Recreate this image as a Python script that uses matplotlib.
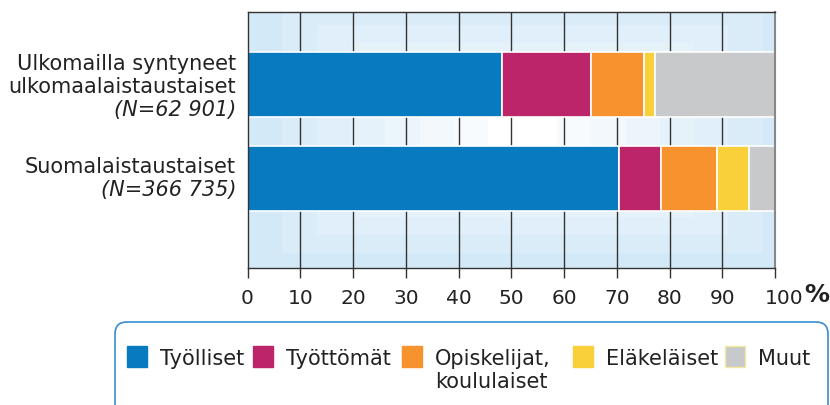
import numpy as np
import matplotlib
matplotlib.use("Agg")
import matplotlib.pyplot as plt
from matplotlib.patches import Rectangle, FancyBboxPatch
from matplotlib.colors import LinearSegmentedColormap
import matplotlib.transforms as mtransforms

plt.rcParams['font.family'] = ['DejaVu Sans']

# data
ryhmat = ['Ulkomailla syntyneet\nulkomaalaistaustaiset', 'Suomalaistaustaiset']
n_tekstit = ['(N=62 901)', '(N=366 735)']
luokat = ['Työlliset', 'Työttömät', 'Opiskelijat,\nkoululaiset', 'Eläkeläiset', 'Muut']
tyolliset = [48.3, 70.5]
tyottomat = [16.8, 7.8]
opiskelijat = [10.1, 10.7]
elakelaiset = [2.0, 6.0]
muut = [22.8, 5.0]
varit = ['#087bc0', '#bc2569', '#f7932f', '#f9d03a', '#c8c9cb']

sarjat = [tyolliset, tyottomat, opiskelijat, elakelaiset, muut]
fs = 15
tekstivari = '#222222'
rivivali = 23

fig = plt.figure(figsize=(8.3, 4.05), dpi=100)

# pikselikoordinaatisto selitteelle ja teksteille
bg = fig.add_axes([0, 0, 1, 1], zorder=-1)
bg.set_xlim(0, 830)
bg.set_ylim(405, 0)
bg.axis('off')
bg.add_patch(FancyBboxPatch((115, 322), 713, 100,
                            boxstyle='round,pad=0,rounding_size=12',
                            facecolor='white', edgecolor='#3a8ccd', linewidth=1.2))

# selite kasin
neliot_x = [127, 253, 402, 573, 725]
for x0, vari, nimi in zip(neliot_x, varit, luokat):
    reuna = '#f3e9a0' if nimi == 'Muut' else vari
    bg.add_patch(Rectangle((x0, 346), 20, 21, facecolor=vari, edgecolor=reuna, lw=1))
    for i, osa in enumerate(nimi.split('\n')):
        bg.text(x0 + 33, 365 + i * rivivali, osa, fontsize=fs, color=tekstivari,
                ha='left', va='baseline')

ax = fig.add_axes([247.5 / 830, 1 - 268 / 405, 527.5 / 830, 256 / 405])

y = np.arange(len(ryhmat))
ylim_ala, ylim_yla = 1.957, -0.78

# taustan liukuvari (vaalea keskelta)
xx, yy = np.meshgrid(np.linspace(0, 100, 400), np.linspace(ylim_yla, ylim_ala, 200))
d = np.maximum(np.abs(xx - 52) / 52, np.abs(yy - 0.48) / 1.5)
d = np.clip(np.floor(d * 8) / 8, 0, 1)
cmap = LinearSegmentedColormap.from_list('tausta', ['#ffffff', '#d3e9f7'])
ax.imshow(d, cmap=cmap, extent=(0, 100, ylim_ala, ylim_yla), aspect='auto',
          zorder=0, vmin=0, vmax=0.9, interpolation='nearest')

# pystyviivat
for xv in range(10, 100, 10):
    ax.axvline(xv, color='#333333', lw=1, zorder=1)

vasen = np.zeros(len(ryhmat))
for arvot, vari in zip(sarjat, varit):
    ax.barh(y, arvot, left=vasen, height=0.695, color=vari, edgecolor='white',
            linewidth=1.2, zorder=2)
    vasen += np.array(arvot)

ax.set_xlim(0, 100)
ax.set_ylim(ylim_ala, ylim_yla)
ax.set_yticks([])
ax.set_xticks(range(0, 101, 10))
ax.tick_params(axis='x', length=7, width=1, color='#333333', labelsize=14.5,
               labelcolor=tekstivari, pad=8)
for s in ax.spines.values():
    s.set_color('#333333')
    s.set_linewidth(1)
ax.spines['right'].set_color('#888888')
ax.spines['right'].set_linewidth(1.5)
# 100 hieman oikealle kuten alkuperaisessa
viim = ax.get_xticklabels()[-1]
viim.set_transform(viim.get_transform() +
                   mtransforms.ScaledTranslation(9 / 100, 0, fig.dpi_scale_trans))

bg.text(817, 295, '%', fontsize=18, fontweight='bold', color=tekstivari,
        ha='center', va='center')

# ryhmien nimet vasemmalle
rivit1 = ryhmat[0].split('\n') + [n_tekstit[0]]
for i, osa in enumerate(rivit1):
    bg.text(236, 70 + i * rivivali, osa, fontsize=fs, color=tekstivari, ha='right',
            va='baseline', style='italic' if osa.startswith('(') else 'normal')
rivit2 = [ryhmat[1], n_tekstit[1]]
for i, osa in enumerate(rivit2):
    bg.text(236, 173 + i * rivivali, osa, fontsize=fs, color=tekstivari, ha='right',
            va='baseline', style='italic' if osa.startswith('(') else 'normal')

fig.savefig('out.png', dpi=100, facecolor='white')
